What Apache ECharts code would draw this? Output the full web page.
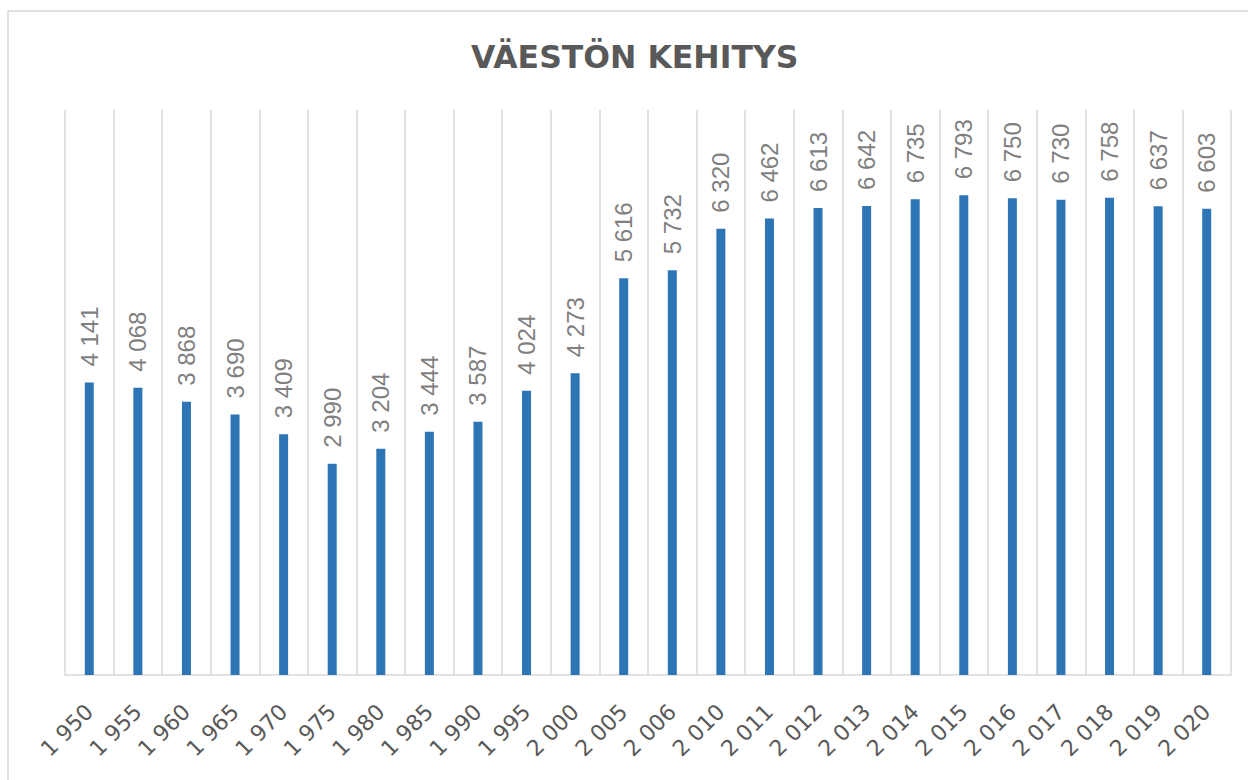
<!DOCTYPE html>
<html>
<head>
<meta charset="utf-8">
<script src="https://cdn.jsdelivr.net/npm/echarts@6/dist/echarts.min.js"></script>
<style>
  html, body { margin: 0; padding: 0; background: #fff; overflow: hidden; }
  #main { width: 1248px; height: 780px; }
</style>
</head>
<body>
<div id="main"></div>
<script>
var years = ['1 950', '1 955', '1 960', '1 965', '1 970', '1 975', '1 980', '1 985', '1 990', '1 995',
  '2 000', '2 005', '2 006', '2 010', '2 011', '2 012', '2 013', '2 014', '2 015', '2 016',
  '2 017', '2 018', '2 019', '2 020'];
var population = [4141, 4068, 3868, 3690, 3409, 2990, 3204, 3444, 3587, 4024,
  4273, 5616, 5732, 6320, 6462, 6613, 6642, 6735, 6793, 6750,
  6730, 6758, 6637, 6603];

function spaced(v) {
  return String(v).replace(/\B(?=(\d{3})+(?!\d))/g, ' ');
}

var myChart = echarts.init(document.getElementById('main'), null, { renderer: 'svg' });
myChart.setOption({
  animation: false,
  title: {
    text: 'VÄESTÖN KEHITYS',
    left: 466,
    top: 36,
    textStyle: {
      fontFamily: 'DejaVu Sans',
      fontWeight: 'bold',
      fontSize: 31.5,
      color: '#595959'
    }
  },
  graphic: [{
    type: 'rect',
    shape: { x: 8, y: 11, width: 1300, height: 900 },
    style: { fill: 'none', stroke: '#d9d9d9', lineWidth: 1.5 },
    silent: true
  }],
  grid: { left: 65, right: 17, top: 110, bottom: 105, containLabel: false },
  xAxis: {
    type: 'category',
    data: years,
    boundaryGap: true,
    axisLine: { lineStyle: { color: '#d9d9d9', width: 1.5 } },
    axisTick: { show: false },
    splitLine: { show: true, lineStyle: { color: '#d9d9d9', width: 1.5 } },
    axisLabel: {
      rotate: 45,
      margin: 33,
      interval: 0,
      fontFamily: 'DejaVu Sans',
      fontSize: 22,
      color: '#595959'
    }
  },
  yAxis: {
    type: 'value',
    min: 0,
    max: 8000,
    show: false,
    splitLine: { show: false }
  },
  series: [{
    type: 'bar',
    data: population,
    barWidth: 9,
    itemStyle: { color: '#2e75b6' },
    label: {
      show: true,
      position: 'top',
      rotate: 90,
      align: 'left',
      verticalAlign: 'middle',
      distance: 16,
      fontFamily: 'Liberation Sans',
      fontSize: 24,
      color: '#7f7f7f',
      formatter: function (p) { return spaced(p.value); }
    }
  }]
});
</script>
</body>
</html>
